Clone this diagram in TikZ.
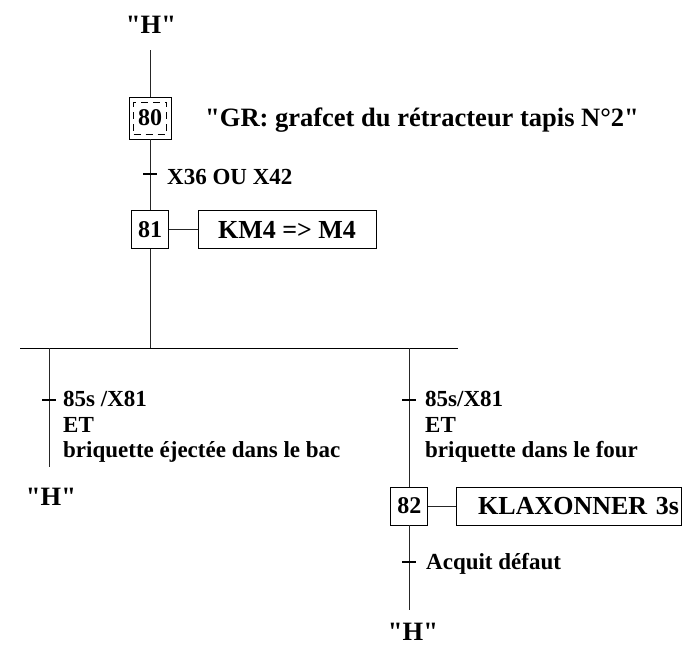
\documentclass[tikz,border=0pt]{standalone}
\usepackage{fontspec}
\setmainfont{Liberation Serif}[Ligatures=TeXOff]
\begin{document}
\begin{tikzpicture}[x=1pt,y=-1pt,
  lin/.style={line width=0.9pt,draw=black!85},
  tickmark/.style={line width=1.8pt,draw=black},
  bigtxt/.style={font=\fontsize{26.5}{28}\selectfont\bfseries,inner sep=0pt},
  lbl/.style={font=\fontsize{23}{25.5}\selectfont\bfseries,inner sep=0pt,align=left},
  stepbox/.style={draw=black,line width=0.9pt,font=\fontsize{24}{26}\selectfont\bfseries,inner sep=0pt,minimum width=37pt,minimum height=38pt},
  initbox/.style={stepbox,minimum width=42pt,minimum height=42pt},
  actbox/.style={draw=black,line width=0.9pt,font=\fontsize{26}{28}\selectfont\bfseries,inner sep=0pt,minimum height=38pt}
]
\useasboundingbox (0,0) rectangle (682,645);

% top
\node[bigtxt] (H1) at (151,25) {"H"};
\coordinate (top) at (150,50);
\node[initbox] (s80) at (150,118) {80};
\node[draw=black,line width=0.8pt,dash pattern=on 7pt off 5pt,minimum width=33pt,minimum height=32pt,inner sep=0pt] (s80in) at (150,118) {};
\draw[lin] (top) -- (s80);
\node[bigtxt,anchor=base west] (title) at (205,126.5) {"GR: grafcet du rétracteur tapis N°2"};

% transition 80 -> 81
\node[stepbox] (s81) at (150,229.5) {81};
\draw[lin] (s80) -- (s81);
\coordinate (t1) at (150,174);
\draw[tickmark] (t1) ++(-7,0) -- ++(14,0);
\node[lbl,anchor=base west] (l1) at (167,184.5) {X36 OU X42};

% action 81
\node[actbox,minimum width=178pt] (a81) at (287,229.5) {KM4 => M4};
\draw[lin] (s81) -- (a81);

% divergence
\coordinate (d) at (150,348);
\coordinate (dL) at (20,348);
\coordinate (dR) at (458,348);
\draw[lin] (s81) -- (d);
\draw[line width=1pt,draw=black] (dL) -- (dR);

% left branch
\coordinate (bL) at (49.3,348);
\coordinate (eL) at (49.3,467);
\draw[lin] (bL) -- (eL);
\coordinate (t2) at (49.3,400);
\draw[tickmark] (t2) ++(-7,0) -- ++(14,0);
\node[lbl,anchor=north west] (l2) at (63,391) {85s /X81\\ET\\briquette éjectée dans le bac};
\node[bigtxt] (H2) at (51,497) {"H"};

% right branch
\coordinate (bR) at (409.3,348);
\node[stepbox] (s82) at (409.3,506) {82};
\draw[lin] (bR) -- (s82);
\coordinate (t3) at (409.3,400);
\draw[tickmark] (t3) ++(-7,0) -- ++(14,0);
\node[lbl,anchor=north west] (l3) at (425,391) {85s/X81\\ET\\briquette dans le four};

% action 82
\node[actbox,minimum width=225pt,text width=221pt,align=right,inner xsep=2pt] (a82) at (568.5,506) {KLAXONNER 3s};
\draw[lin] (s82) -- (a82);

% transition after 82
\coordinate (e82) at (409.3,610);
\draw[lin] (s82) -- (e82);
\coordinate (t4) at (409.3,562);
\draw[tickmark] (t4) ++(-7,0) -- ++(14,0);
\node[lbl,anchor=base west] (l4) at (426,569) {Acquit défaut};
\node[bigtxt] (H3) at (413,632) {"H"};
\end{tikzpicture}
\end{document}
